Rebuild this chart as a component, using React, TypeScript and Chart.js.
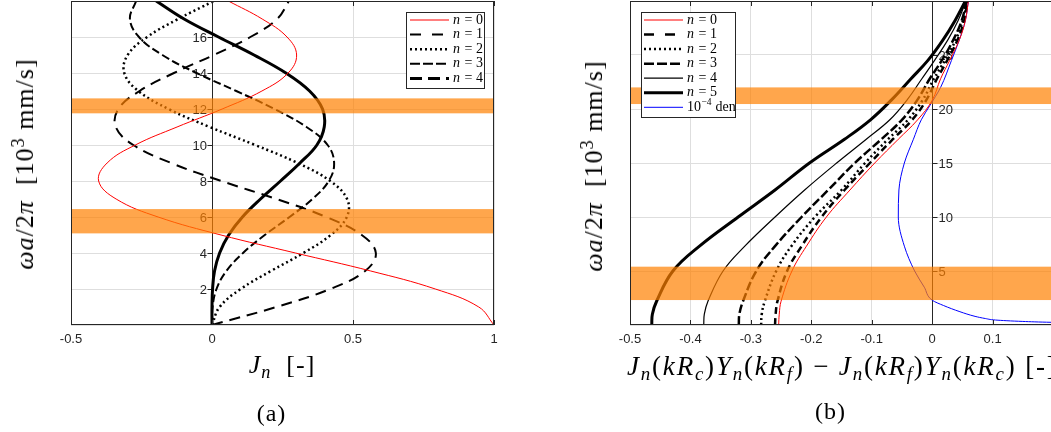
import React, { useEffect, useRef } from 'react';
import { Chart, registerables } from 'chart.js';
Chart.register(...registerables);

// ---------- Panel (a) data ----------
const LEFT_Y = [0, 1, 2, 3, 4, 5, 6, 7, 8, 9, 10, 11, 12, 13, 14, 15, 16, 17, 18];
const J0 = [1, 0.946, 0.792, 0.563, 0.296, 0.032, -0.191, -0.34, -0.402, -0.372, -0.272, -0.124, 0.036, 0.177, 0.27, 0.3, 0.266, 0.178, 0.058];
const J1 = [0, 0.228, 0.419, 0.543, 0.581, 0.531, 0.405, 0.228, 0.033, -0.145, -0.279, -0.341, -0.332, -0.257, -0.135, 0.006, 0.136, 0.231, 0.273];
const J2 = [0, 0.027, 0.102, 0.209, 0.324, 0.421, 0.478, 0.479, 0.419, 0.304, 0.153, -0.008, -0.154, -0.261, -0.311, -0.299, -0.23, -0.12, 0.007];
const J3 = [0, 0.002, 0.016, 0.051, 0.11, 0.187, 0.275, 0.356, 0.414, 0.433, 0.41, 0.335, 0.222, 0.086, -0.055, -0.176, -0.259, -0.291, -0.269];
const J4 = [0, 0.0, 0.002, 0.009, 0.027, 0.059, 0.108, 0.172, 0.243, 0.312, 0.372, 0.398, 0.392, 0.346, 0.262, 0.149, 0.023, -0.099, -0.198];
const LEFT_NAMES = ['0', '1', '2', '3', '4'];
const LEFT_X_TICKS = [-0.5, 0, 0.5, 1];
const LEFT_Y_GRID = [0, 2, 4, 6, 8, 10, 12, 14, 16, 18];
const LEFT_Y_LABELS = [2, 4, 6, 8, 10, 12, 14, 16];
const LEFT_BANDS = [[11.76, 12.59], [5.09, 6.44]];

// ---------- Panel (b) data ----------
const RIGHT_Y = [0, 1, 2.2, 5, 7.3, 10, 12.5, 15, 17.2, 19, 20.8, 22.8, 24.5, 26.4, 28.2, 30];
const R0 = [-0.254, -0.253, -0.25, -0.232, -0.208, -0.175, -0.136, -0.095, -0.056, -0.024, 0.0, 0.014, 0.029, 0.045, 0.055, 0.06];
const R1 = [-0.26, -0.259, -0.256, -0.24, -0.216, -0.183, -0.145, -0.103, -0.065, -0.033, -0.01, 0.008, 0.025, 0.042, 0.053, 0.058];
const R2 = [-0.283, -0.282, -0.277, -0.258, -0.233, -0.194, -0.15, -0.111, -0.073, -0.04, -0.016, 0.003, 0.021, 0.039, 0.051, 0.058];
const R3 = [-0.32, -0.319, -0.313, -0.291, -0.26, -0.216, -0.172, -0.128, -0.084, -0.05, -0.025, -0.004, 0.016, 0.035, 0.049, 0.057];
const R4 = [-0.378, -0.377, -0.371, -0.346, -0.31, -0.26, -0.211, -0.158, -0.109, -0.07, -0.042, -0.017, 0.004, 0.026, 0.043, 0.056];
const R5 = [-0.464, -0.463, -0.456, -0.429, -0.385, -0.321, -0.26, -0.203, -0.145, -0.102, -0.068, -0.035, -0.007, 0.018, 0.038, 0.055];
const BLUE_Y = [0.15, 0.2, 0.25, 0.33, 0.46, 0.6, 0.8, 1.23, 1.8, 2.3, 3.5, 5, 7.3, 10, 12.5, 15, 17.2, 19, 20.3, 22, 24.5, 26.4, 28.2, 30];
const BLUE_X = [0.33, 0.25, 0.197, 0.15, 0.105, 0.088, 0.071, 0.046, 0.019, 0.0, -0.013, -0.029, -0.046, -0.056, -0.055, -0.046, -0.031, -0.018, -0.004, 0.014, 0.032, 0.045, 0.055, 0.06];
const RIGHT_NAMES = ['0', '1', '2', '3', '4', '5'];
const BLUE_NAME = 'den';
const RIGHT_X_TICKS = [-0.5, -0.4, -0.3, -0.2, -0.1, 0, 0.1, 0.2];
const RIGHT_Y_GRID = [0, 5, 10, 15, 20, 25, 30];
const RIGHT_Y_LABELS = [5, 10, 15, 20, 25];
const RIGHT_BANDS = [[20.46, 22.0], [2.31, 5.4]];

const AX = '#262626';
const GRID = '#dedede';
const BAND = 'rgba(255,128,0,0.7)';
const TICK_FONT = '13px "Liberation Sans", Arial, Helvetica, sans-serif';
const SERIF = '"Liberation Serif", "Times New Roman", serif';

type Style = { color: string; width: number; dash: number[]; legendDash?: number[] };

const LEFT_STYLES: Style[] = [
  { color: '#ff0000', width: 1, dash: [] },
  { color: '#000', width: 2, dash: [11, 7], legendDash: [11, 11] },
  { color: '#000', width: 2.5, dash: [2, 3] },
  { color: '#000', width: 2, dash: [8, 3.5], legendDash: [10, 3] },
  { color: '#000', width: 3, dash: [], legendDash: [12, 6] },
];
const RIGHT_STYLES: Style[] = [
  { color: '#ff0000', width: 1, dash: [] },
  { color: '#000', width: 2.5, dash: [7, 4], legendDash: [10, 11] },
  { color: '#000', width: 2.5, dash: [2, 3] },
  { color: '#000', width: 2.5, dash: [9, 3], legendDash: [10, 3] },
  { color: '#000', width: 1.2, dash: [] },
  { color: '#000', width: 3, dash: [] },
  { color: '#0000ff', width: 1, dash: [] },
];

type LegendCfg = { x: number; y: number; w: number; h: number; row0: number; step: number; l0: number; l1: number; tx: number; labels: string[]; styles: Style[] };
type PanelCfg = { yLabels: number[]; side: 'left' | 'right'; xTicks: number[]; bands: number[][]; legend: LegendCfg };

function drawLabel(ctx: CanvasRenderingContext2D, x: number, y: number, label: string) {
  ctx.fillStyle = '#000';
  ctx.textAlign = 'left';
  ctx.textBaseline = 'middle';
  if (label === BLUE_NAME) {
    ctx.font = `14px ${SERIF}`;
    ctx.fillText('10', x, y);
    const w1 = ctx.measureText('10').width;
    ctx.font = `9.5px ${SERIF}`;
    ctx.fillText('\u22124', x + w1 + 0.5, y - 5);
    const w2 = ctx.measureText('\u22124').width;
    ctx.font = `14px ${SERIF}`;
    ctx.fillText(' den', x + w1 + w2 + 1, y);
  } else {
    ctx.font = `italic 14px ${SERIF}`;
    ctx.fillText('n', x, y);
    const w = ctx.measureText('n').width;
    ctx.font = `14px ${SERIF}`;
    ctx.fillText(' = ' + label, x + w + 1, y);
  }
}

function makePlugin(cfg: PanelCfg) {
  return {
    id: 'panelDecor',
    beforeDatasetsDraw(chart: any) {
      const { ctx, chartArea: a, scales } = chart;
      const x = scales.x, y = scales.y;
      ctx.save();
      const x0 = Math.round(x.getPixelForValue(0)) + 0.5;
      ctx.strokeStyle = AX;
      ctx.lineWidth = 1;
      ctx.setLineDash([]);
      ctx.beginPath();
      ctx.moveTo(x0, a.top);
      ctx.lineTo(x0, a.bottom);
      ctx.stroke();
      ctx.font = TICK_FONT;
      ctx.fillStyle = AX;
      ctx.textBaseline = 'middle';
      for (const v of cfg.yLabels) {
        const py = Math.round(y.getPixelForValue(v)) + 0.5;
        ctx.beginPath();
        if (cfg.side === 'left') { ctx.moveTo(x0 - 5, py); ctx.lineTo(x0, py); }
        else { ctx.moveTo(x0, py); ctx.lineTo(x0 + 5, py); }
        ctx.stroke();
        ctx.textAlign = cfg.side === 'left' ? 'right' : 'left';
        ctx.fillText(String(v), cfg.side === 'left' ? x0 - 5.5 : x0 + 6, py + 0.5);
      }
      ctx.restore();
    },
    afterDatasetsDraw(chart: any) {
      const { ctx, chartArea: a, scales } = chart;
      const x = scales.x, y = scales.y;
      ctx.save();
      ctx.beginPath();
      ctx.rect(a.left, a.top, a.right - a.left, a.bottom - a.top);
      ctx.clip();
      ctx.fillStyle = BAND;
      for (const b of cfg.bands) {
        const t = y.getPixelForValue(b[1]);
        const btm = y.getPixelForValue(b[0]);
        ctx.fillRect(a.left, t, a.right - a.left, btm - t);
      }
      ctx.restore();
      ctx.save();
      ctx.strokeStyle = AX;
      ctx.lineWidth = 1;
      ctx.setLineDash([]);
      ctx.strokeRect(a.left + 0.5, a.top + 0.5, a.right - a.left - 1, a.bottom - a.top - 1);
      for (const v of cfg.xTicks) {
        const px = Math.round(x.getPixelForValue(v)) + 0.5;
        ctx.beginPath();
        ctx.moveTo(px, a.top);
        ctx.lineTo(px, a.top + 5);
        ctx.moveTo(px, a.bottom);
        ctx.lineTo(px, a.bottom - 5);
        ctx.stroke();
      }
      // legend
      const L = cfg.legend;
      ctx.fillStyle = '#fff';
      ctx.fillRect(L.x, L.y, L.w, L.h);
      ctx.strokeStyle = AX;
      ctx.lineWidth = 1;
      ctx.strokeRect(L.x + 0.5, L.y + 0.5, L.w, L.h);
      L.labels.forEach((lab, i) => {
        const st = L.styles[i];
        const yy = L.row0 + i * L.step;
        ctx.strokeStyle = st.color;
        ctx.lineWidth = st.width;
        ctx.setLineDash(st.legendDash || st.dash);
        ctx.beginPath();
        ctx.moveTo(L.l0, yy);
        ctx.lineTo(L.l1, yy);
        ctx.stroke();
        ctx.setLineDash([]);
        drawLabel(ctx, L.tx, yy, lab);
      });
      ctx.restore();
    },
  };
}

function baseScales(xMin: number, xMax: number, xTicks: number[], yMax: number, yGrid: number[], hideAbove: number) {
  return {
    x: {
      type: 'linear', min: xMin, max: xMax,
      afterBuildTicks: (s: any) => { s.ticks = xTicks.map((v) => ({ value: v })); },
      afterFit: (s: any) => { s.height = 30; },
      grid: { color: GRID, drawTicks: false, lineWidth: 1 },
      border: { display: false },
      ticks: {
        font: { family: '"Liberation Sans", Arial, Helvetica, sans-serif', size: 13 },
        color: AX, padding: 7, maxRotation: 0, autoSkip: false,
        callback: (v: any) => (Number(v) > hideAbove ? '' : String(v)),
      },
    },
    y: {
      type: 'linear', min: 0, max: yMax,
      afterBuildTicks: (s: any) => { s.ticks = yGrid.map((v) => ({ value: v })); },
      afterFit: (s: any) => { s.width = 0; },
      grid: { color: GRID, drawTicks: false, lineWidth: 1 },
      border: { display: false },
      ticks: { display: false },
    },
  };
}

export default function App() {
  const leftRef = useRef<HTMLCanvasElement>(null);
  const rightRef = useRef<HTMLCanvasElement>(null);

  useEffect(() => {
    const leftSeries = [J0, J1, J2, J3, J4];
    const left = new Chart(leftRef.current as HTMLCanvasElement, {
      type: 'line',
      data: {
        datasets: leftSeries.map((vals, k) => ({
          label: 'n = ' + LEFT_NAMES[k],
          data: LEFT_Y.map((yv, i) => ({ x: vals[i], y: yv })),
          borderColor: LEFT_STYLES[k].color,
          borderWidth: LEFT_STYLES[k].width,
          borderDash: LEFT_STYLES[k].dash,
          pointRadius: 0,
          tension: 0.4,
          fill: false,
        })),
      },
      options: {
        animation: false,
        responsive: false,
        devicePixelRatio: 1,
        events: [],
        layout: { padding: { left: 71, right: 26, top: 1, bottom: 77 } },
        plugins: { legend: { display: false }, tooltip: { enabled: false } },
        scales: baseScales(-0.5, 1, LEFT_X_TICKS, 18, LEFT_Y_GRID, 10) as any,
      },
      plugins: [makePlugin({
        yLabels: LEFT_Y_LABELS, side: 'left', xTicks: LEFT_X_TICKS, bands: LEFT_BANDS,
        legend: { x: 406, y: 12, w: 78, h: 76, row0: 20, step: 14.6, l0: 410, l1: 449, tx: 453, labels: LEFT_NAMES, styles: LEFT_STYLES },
      }) as any],
    } as any);

    const rightSeries = [R0, R1, R2, R3, R4, R5];
    const rds: any[] = rightSeries.map((vals, k) => ({
      label: 'n = ' + RIGHT_NAMES[k],
      data: RIGHT_Y.map((yv, i) => ({ x: vals[i], y: yv })),
      borderColor: RIGHT_STYLES[k].color,
      borderWidth: RIGHT_STYLES[k].width,
      borderDash: RIGHT_STYLES[k].dash,
      pointRadius: 0,
      tension: 0.4,
      fill: false,
    }));
    rds.push({
      label: '10^-4 den',
      data: BLUE_Y.map((yv, i) => ({ x: BLUE_X[i], y: yv })),
      borderColor: RIGHT_STYLES[6].color,
      borderWidth: RIGHT_STYLES[6].width,
      borderDash: [],
      pointRadius: 0,
      cubicInterpolationMode: 'monotone',
      fill: false,
    });
    const right = new Chart(rightRef.current as HTMLCanvasElement, {
      type: 'line',
      data: { datasets: rds },
      options: {
        animation: false,
        responsive: false,
        devicePixelRatio: 1,
        events: [],
        indexAxis: 'y',
        layout: { padding: { left: 110, right: 67, top: 1, bottom: 77 } },
        plugins: { legend: { display: false }, tooltip: { enabled: false } },
        scales: baseScales(-0.5, 0.2, RIGHT_X_TICKS, 30, RIGHT_Y_GRID, 0.15) as any,
      },
      plugins: [makePlugin({
        yLabels: RIGHT_Y_LABELS, side: 'right', xTicks: RIGHT_X_TICKS, bands: RIGHT_BANDS,
        legend: { x: 121, y: 12, w: 94, h: 105, row0: 20, step: 14.55, l0: 124, l1: 163, tx: 167, labels: [...RIGHT_NAMES, BLUE_NAME], styles: RIGHT_STYLES },
      }) as any],
    } as any);

    return () => { left.destroy(); right.destroy(); };
  }, []);

  const sub: React.CSSProperties = { fontSize: '0.7em', verticalAlign: '-0.3em', lineHeight: 0 };
  const sup: React.CSSProperties = { fontSize: '0.7em', verticalAlign: '0.5em', lineHeight: 0 };
  const text = (l: number, t: number, extra: React.CSSProperties = {}): React.CSSProperties => ({
    position: 'absolute', left: l, top: t, whiteSpace: 'nowrap', fontFamily: SERIF, fontSize: 25,
    lineHeight: 1, color: '#000', transform: 'translate(-50%,-50%)', ...extra,
  });
  const yTitle = (
    <>
      <i>ωa</i>/2<i>π</i>&nbsp;&nbsp;[10<span style={sup}>3</span>&nbsp;mm/s]
    </>
  );
  const JY = (a: string, b: string) => (
    <>
      <i>J</i><span style={sub}><i>n</i></span>(<i>kR</i><span style={sub}><i>{a}</i></span>)<i>Y</i><span style={sub}><i>n</i></span>(<i>kR</i><span style={sub}><i>{b}</i></span>)
    </>
  );
  const yStyle = { transform: 'translate(-50%,-50%) rotate(-90deg)', fontSize: 26, letterSpacing: 1 };

  return (
    <div style={{ position: 'fixed', left: 0, top: 0, width: 1051, height: 432, overflow: 'hidden', background: '#fff' }}>
      <canvas ref={leftRef} width={520} height={432} style={{ position: 'absolute', left: 0, top: 0, width: 520, height: 432 }} />
      <canvas ref={rightRef} width={600} height={432} style={{ position: 'absolute', left: 520, top: 0, width: 600, height: 432 }} />
      <div style={text(25, 164, yStyle)}>{yTitle}</div>
      <div style={text(594, 166, yStyle)}>{yTitle}</div>
      <div style={text(282, 365, { fontSize: 26, letterSpacing: 1 })}><i>J</i><span style={sub}><i>n</i></span>&nbsp;&nbsp;[-]</div>
      <div style={text(627, 366, { transform: 'translate(0,-50%)', fontSize: 27, letterSpacing: 1.8 })}>
        {JY('c', 'f')} − {JY('f', 'c')} [-]
      </div>
      <div style={text(271.5, 413, { fontSize: 24, letterSpacing: 1 })}>(a)</div>
      <div style={text(830.5, 411, { fontSize: 24, letterSpacing: 1 })}>(b)</div>
    </div>
  );
}
